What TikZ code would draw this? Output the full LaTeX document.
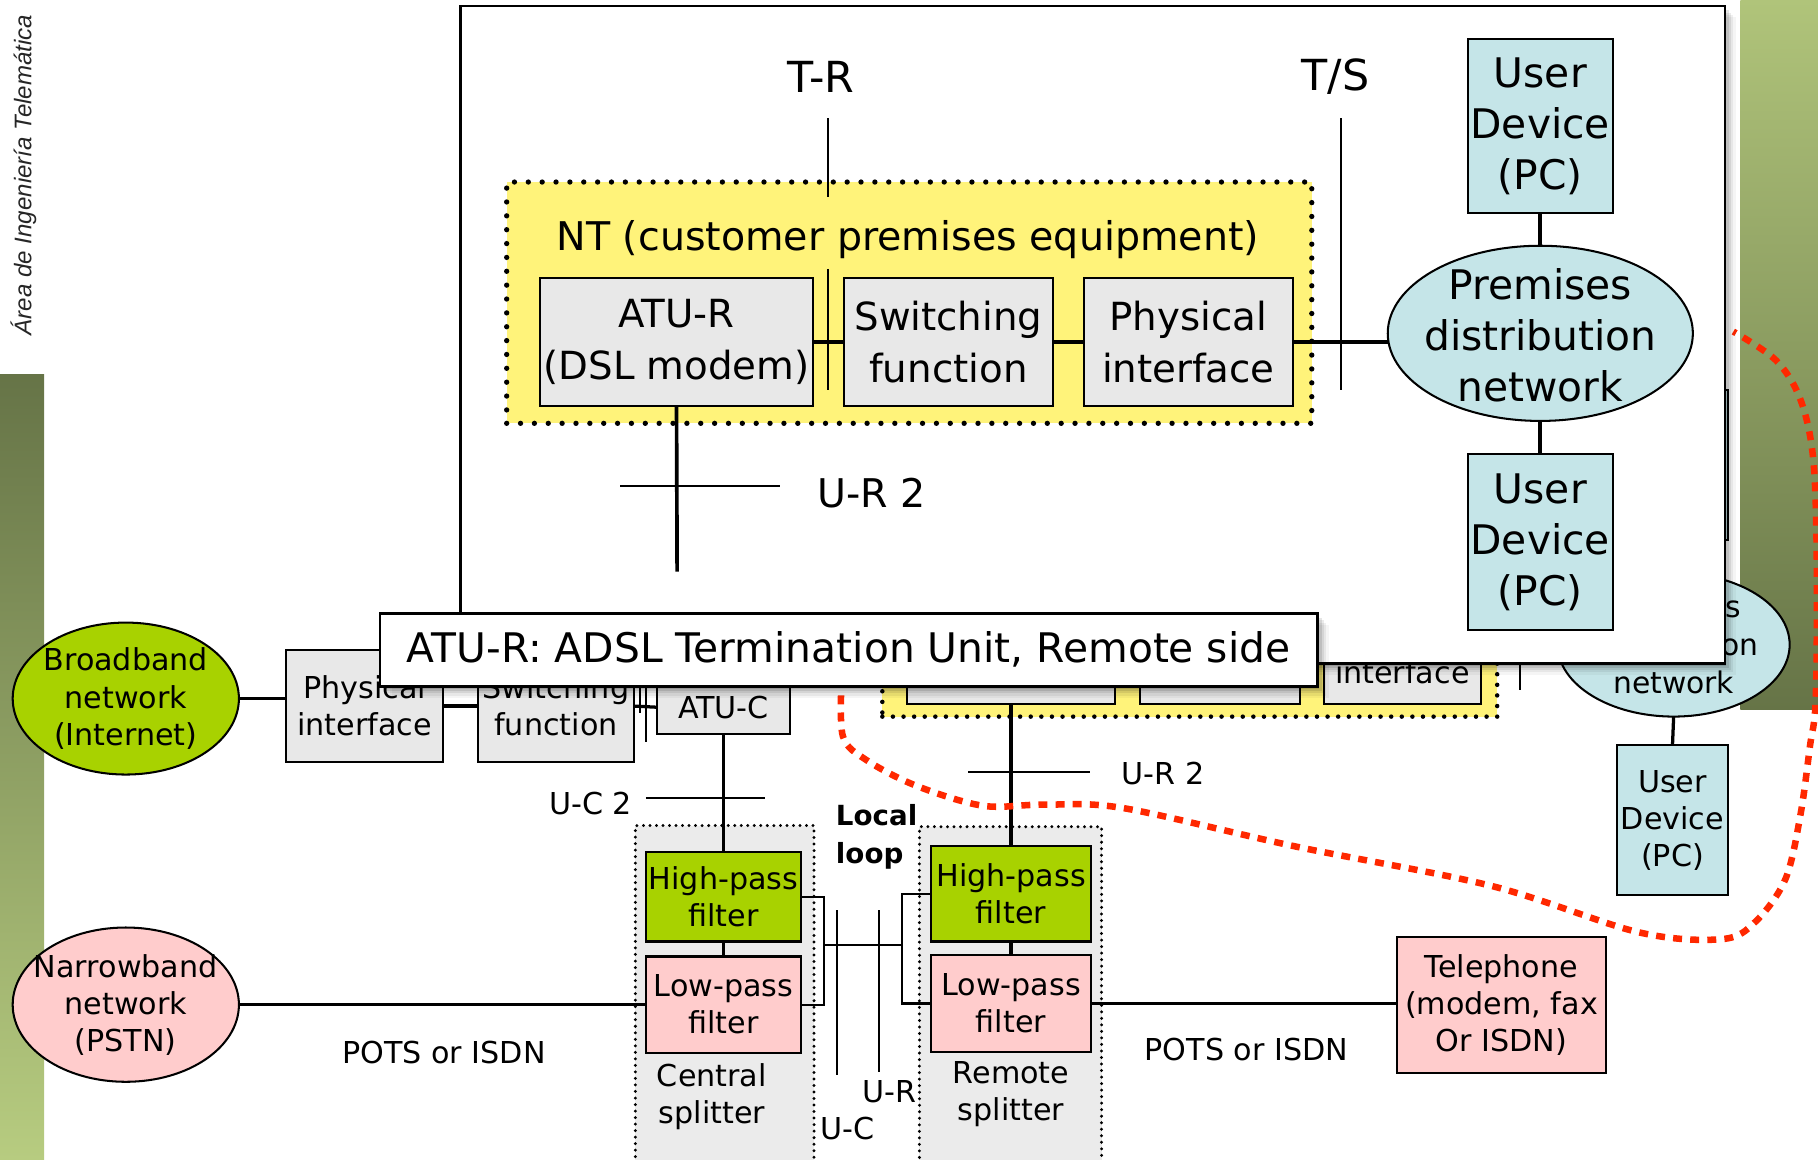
\documentclass[tikz,border=0pt]{standalone}
\usepackage{fontspec}
\setmainfont{DejaVu Sans}
\newfontfamily\arialfont{Liberation Sans}
\usetikzlibrary{shapes.geometric}
\definecolor{grayfill}{RGB}{232,232,232}
\definecolor{splitfill}{RGB}{235,235,235}
\definecolor{hpgreen}{RGB}{168,210,0}
\definecolor{pinkfill}{RGB}{255,204,204}
\definecolor{cyanfill}{RGB}{197,229,232}
\definecolor{ntyellow}{RGB}{255,243,122}
\definecolor{barDark}{RGB}{102,116,71}
\definecolor{barLight}{RGB}{183,204,128}
\definecolor{barRLight}{RGB}{176,196,122}
\definecolor{redline}{RGB}{255,40,0}
\begin{document}
\begin{tikzpicture}[x=0.01cm,y=-0.01cm,
  every node/.style={inner sep=0pt, outer sep=0pt},
  bx/.style={draw, line width=0.5pt, align=center},
  sfont/.style={font=\fontsize{7.4}{9.1}\selectfont, align=center},
  mfont/.style={font=\fontsize{9.5}{12.7}\selectfont, align=center},
  lfont/.style={font=\fontsize{10}{12.5}\selectfont, align=center},
  conn/.style={line width=0.8pt},
  tconn/.style={line width=0.9pt},
  tickline/.style={line width=0.4pt},
  bigdots/.style={draw, line width=1.3pt, line cap=round, dash pattern=on 0pt off 3.4pt},
  meddots/.style={draw, line width=1.1pt, line cap=round, dash pattern=on 0pt off 2.6pt},
  smalldots/.style={draw, line width=0.8pt, line cap=round, dash pattern=on 0pt off 1.6pt}
]
\useasboundingbox (0,0) rectangle (1568,1000);
\clip (0,0) rectangle (1568,1000);

% slide background bars and side text
\shade[top color=barDark, bottom color=barLight] (0,323) rectangle (38,1000);
\shade[top color=barRLight, bottom color=barDark] (1501,0) rectangle (1568,612);
\node[rotate=90, anchor=base west, font=\arialfont\itshape\fontsize{5.9}{7}\selectfont, text=black!85] (dept) at (27,289) {Área de Ingeniería Telemática};

% ---------- underlying diagram ----------
\node[ellipse, draw, line width=0.5pt, fill=hpgreen, minimum width=1.95cm, minimum height=1.31cm] (bb) at (108.5,602.5) {};
\node[sfont] (bbt) at (bb.center) {Broadband\\network\\(Internet)};
\node[ellipse, draw, line width=0.5pt, fill=pinkfill, minimum width=1.95cm, minimum height=1.33cm] (nb) at (108.5,866.5) {};
\node[sfont] (nbt) at (108.5,867) {Narrowband\\network\\(PSTN)};

\node[bx, sfont, fill=grayfill, minimum width=1.35cm, minimum height=0.96cm] (phys) at (314.5,609) {Physical\\interface};
\node[bx, sfont, fill=grayfill, minimum width=1.35cm, minimum height=0.96cm] (sw) at (479.5,609) {Switching\\function};
\node[bx, sfont, fill=grayfill, minimum width=1.14cm, minimum height=0.46cm] (atuc) at (624,610) {ATU-C};
\draw[conn] (bb.east) -- (bb.east -| phys.west);
\draw[conn] (phys.east) -- (sw.west);
\draw[conn] (sw.east) -- (atuc.west);
\draw[tickline] (552,585) -- (552,615);
\draw[tickline] (557,585) -- (557,640);

% splitters
\node[smalldots, fill=splitfill, minimum width=1.54cm, minimum height=2.95cm, anchor=north west] (csplit) at (548,712) {};
\node[smalldots, fill=splitfill, minimum width=1.57cm, minimum height=2.95cm, anchor=north west] (rsplit) at (793,713) {};
\node[bx, sfont, fill=hpgreen, minimum width=1.34cm, minimum height=0.77cm] (chp) at (624,773.5) {High-pass\\filter};
\node[bx, sfont, fill=pinkfill, minimum width=1.34cm, minimum height=0.83cm] (clp) at (624,866.5) {Low-pass\\filter};
\node[sfont] (cst) at (614,946) {Central\\splitter};
\node[bx, sfont, fill=hpgreen, minimum width=1.38cm, minimum height=0.82cm] (rhp) at (872,771) {High-pass\\filter};
\node[bx, sfont, fill=pinkfill, minimum width=1.38cm, minimum height=0.83cm] (rlp) at (872,865.5) {Low-pass\\filter};
\node[sfont] (rst) at (872,944) {Remote\\splitter};

\draw[conn] (atuc.south) -- (chp.north);
\draw[tickline] (557,688) -- (660,688);
\node[sfont, anchor=east] (uc2) at (545,693) {U-C 2};
\draw[conn] (chp.south) -- (clp.north);
\draw[conn] (rhp.south) -- (rlp.north);
\draw[conn] (nb.east) -- (clp.west);
\node[sfont] (pots1) at (383,908) {POTS or ISDN};

\draw[line width=0.5pt] (chp.east) -- ++(20,0) |- (clp.east);
\draw[line width=0.5pt] (rhp.west) -- ++(-25,0) |- (rlp.west);
\coordinate (cbr) at (711,815);
\coordinate (rbr) at (778,815);
\draw[line width=0.5pt] (cbr) -- (rbr);
\draw[tickline] (722,785) -- (722,927);
\draw[tickline] (758,785) -- (758,925);
\node[sfont] (uclab) at (731,973) {U-C};
\node[sfont] (urlab) at (767,942) {U-R};
\node[font=\bfseries\fontsize{6.8}{9.4}\selectfont, align=left, anchor=west] (ll) at (721,722) {Local\\loop};

% remote NT (mostly hidden)
\node[meddots, fill=ntyellow, minimum width=5.30cm, minimum height=1.48cm, anchor=north west] (ntb) at (761,470) {};
\node[bx, fill=grayfill, minimum width=1.80cm, minimum height=0.82cm] (b1) at (872,566) {};
\node[bx, fill=grayfill, minimum width=1.38cm, minimum height=0.82cm] (b2) at (1052,566) {};
\node[bx, fill=grayfill, minimum width=1.35cm, minimum height=0.82cm] (b3) at (1209.5,566) {};
\node[sfont] (b3t) at (1209.5,580) {interface};
\draw[conn] (b1.east) -- (b2.west);
\draw[conn] (b2.east) -- (b3.west);
\draw[tickline] (972,540) -- (972,592);
\draw[tickline] (1311,540) -- (1311,595);
\draw[conn] (b1.south) -- (rhp.north);
\draw[tickline] (835,666) -- (940,666);
\node[sfont] (ur2b) at (1003,667) {U-R 2};

\node[bx, sfont, fill=pinkfill, minimum width=1.80cm, minimum height=1.17cm] (tel) at (1295,866.5) {Telephone\\(modem, fax\\Or ISDN)};
\draw[conn] (rlp.east) -- (rlp.east -| tel.west);
\node[sfont] (pots2) at (1075,905) {POTS or ISDN};

\node[bx, fill=cyanfill, minimum width=0.95cm, minimum height=1.30cm] (udb1) at (1442.5,401) {};
\node[ellipse, draw, line width=0.5pt, fill=cyanfill, minimum width=2.00cm, minimum height=1.24cm] (premb) at (1443.5,556) {};
\node[font=\fontsize{7.3}{9.3}\selectfont, align=center] (prembt) at (1443.5,556) {Premises\\distribution\\network};
\node[bx, sfont, fill=cyanfill, minimum width=0.95cm, minimum height=1.29cm] (udb2) at (1442.5,707.5) {User\\Device\\(PC)};
\draw[conn] (premb.south) -- (udb2.north);

% red dotted boundary
\draw[redline, line width=1.6pt, dash pattern=on 2.2pt off 2pt] plot[smooth, tension=0.55] coordinates {(726,585) (727,635) (748,656) (791,678) (848,695) (900,694) (969,697) (1117,730) (1286,764) (1413,804) (1485,810) (1514,795) (1540,758) (1553,702) (1561,644) (1566,604) (1567,489) (1564,397) (1553,345) (1532,311) (1495,286)};

% ---------- zoomed inset ----------
\foreach \o/\a in {2/0.12,4/0.10,6/0.08,8/0.06,10/0.04}{
  \fill[black, opacity=\a] (397+\o,5+\o) rectangle (1487+\o,572+\o);
}
\node[draw, line width=0.6pt, fill=white, minimum width=10.90cm, minimum height=5.67cm, anchor=north west] (inset) at (397,5) {};
\node[font=\fontsize{10.5}{12}\selectfont] (trl) at (708,66) {T-R};
\node[font=\fontsize{10.5}{12}\selectfont] (tsl) at (1152,66) {T/S};
\node[bigdots, fill=ntyellow, minimum width=6.94cm, minimum height=2.08cm, anchor=north west] (nt) at (437,157) {};
\draw[tickline] (714,102) -- (714,170);
\draw[tickline] (714,232) -- (714,336);
\draw[line width=0.5pt] (1157,102) -- (1157,336);
\node[font=\fontsize{9.7}{12}\selectfont] (ntt) at (783,207) {NT (customer premises equipment)};
\node[bx, mfont, fill=grayfill, minimum width=2.35cm, minimum height=1.10cm] (atur) at (583.5,295) {ATU-R\\(DSL modem)};
\node[bx, mfont, fill=grayfill, minimum width=1.80cm, minimum height=1.10cm] (swt) at (818,295) {Switching\\function};
\node[bx, mfont, fill=grayfill, minimum width=1.80cm, minimum height=1.10cm] (pht) at (1025,295) {Physical\\interface};
\node[ellipse, draw, line width=0.5pt, fill=cyanfill, minimum width=2.63cm, minimum height=1.51cm] (prem) at (1328.5,287.5) {};
\node[lfont] (premt) at (1328.5,289) {Premises\\distribution\\network};
\node[bx, lfont, fill=cyanfill, minimum width=1.25cm, minimum height=1.50cm] (udt) at (1328.5,109) {User\\Device\\(PC)};
\node[bx, lfont, fill=cyanfill, minimum width=1.25cm, minimum height=1.51cm] (udm) at (1328.5,467.5) {User\\Device\\(PC)};
\draw[tconn] (atur.east) -- (swt.west);
\draw[tconn] (swt.east) -- (pht.west);
\draw[tconn] (pht.east) -- (prem.west |- pht.east);
\draw[tconn] (udt.south) -- (prem.north);
\draw[tconn] (prem.south) -- (udm.north);
\coordinate (urend) at (584,493);
\draw[tconn] (atur.south) -- (urend);
\draw[tickline] (535,419) -- (673,419);
\node[font=\fontsize{9.7}{12}\selectfont] (ur2t) at (752,425) {U-R 2};

% callout
\foreach \o/\a in {2/0.12,4/0.10,6/0.08,8/0.06,10/0.04}{
  \fill[black, opacity=\a] (328+\o,529+\o) rectangle (1136+\o,592+\o);
}
\node[draw, line width=0.6pt, fill=white, minimum width=8.08cm, minimum height=0.63cm, font=\fontsize{10}{12}\selectfont] (callout) at (732,560.5) {ATU-R: ADSL Termination Unit, Remote side};
\end{tikzpicture}
\end{document}
